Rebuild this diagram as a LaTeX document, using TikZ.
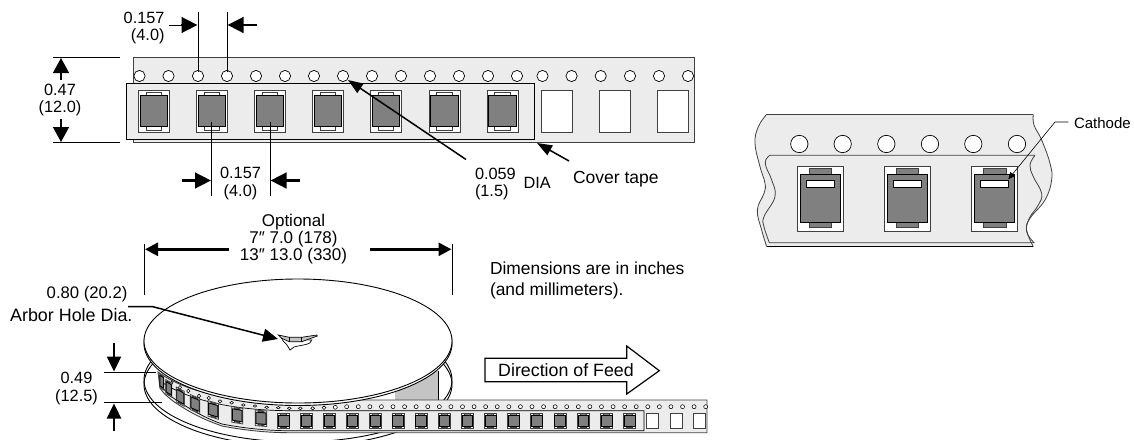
\documentclass[tikz,border=0pt]{standalone}
\usepackage{fontspec}
\setmainfont{Liberation Sans}
\usetikzlibrary{arrows.meta}
\definecolor{tapegray}{HTML}{ECECEC}
\definecolor{bodygray}{HTML}{808080}
\definecolor{wedgegray}{HTML}{C4C4C4}
\definecolor{edgegray}{HTML}{404040}
\newcommand{\txtA}{\fontsize{16.3}{17.5}\selectfont}
\newcommand{\txtB}{\fontsize{17.5}{17}\selectfont}
\newcommand{\txtO}{\fontsize{17}{17}\selectfont}
\newcommand{\txtN}{\fontsize{17.4}{21}\selectfont}
\newcommand{\txtC}{\fontsize{15}{15}\selectfont}
% a taped component, in local coordinates of the top tape
\newcommand{\tapecomp}[1]{%
  \draw[pocketline,fill=white] (-15.5,-21) rectangle (15.5,21);
  \draw[pocketline,fill=#1] (-7.8,-19) rectangle (7.8,-15);
  \draw[pocketline,fill=#1] (-7.8,15) rectangle (7.8,19);
  \draw[black,line width=.9pt,fill=bodygray] (-13.7,-15.5) rectangle (13.7,15.5);
}
\tikzset{
  pocketline/.style={draw=edgegray,line width=.8pt},
  dimline/.style={draw=black,line width=.75pt},
  bigarrow/.style={line width=2.8pt,-{Triangle[length=16pt,width=15.5pt]}},
  reelarrow/.style={line width=2.8pt,-{Triangle[length=13pt,width=13pt]}},
  smallarrow/.style={line width=1.5pt,-{Triangle[length=15pt,width=11pt]}},
  upright/.style={line width=2.4pt,-{Triangle[length=15pt,width=14pt]}},
  bigup/.style={line width=1.4pt,-{Triangle[length=15pt,width=16pt]}},
  lab/.style={inner sep=0pt,outer sep=0pt,font=\txtA,align=center},
  tapefill/.style={draw=edgegray,line width=.9pt,fill=tapegray},
  holeline/.style={draw=black,line width=.7pt,fill=white},
}
\begin{document}
\begin{tikzpicture}[x=1pt,y=-1pt]
\useasboundingbox (0,0) rectangle (1134,439);
\begin{scope}
\clip (0,0) rectangle (1134,439);

%% ---------- top tape ----------
\draw[tapefill] (133,57.5) rectangle (694,142.5);
\foreach \hh in {139.5,168.5,198,227,256,285,314,343,372,401,430,459,488,517,542.5,571.6,600.7,630,659,688}
  \draw[holeline] (\hh,76) circle (5.6);
\draw[black,line width=.8pt,fill=tapegray] (126.5,83.5) rectangle (534.5,139.5);
\foreach \cc in {154,212,270,328,386,444.5,502.5}
  \begin{scope}[shift={(\cc,111)}]\tapecomp{white}\end{scope}
\foreach \cc in {556.5,615,673}
  \draw[pocketline,fill=white] (\cc-15.5,90) rectangle (\cc+15.5,132);

\coordinate (ta) at (198,12); \coordinate (tb) at (198,72);
\coordinate (tc) at (227,12); \coordinate (td) at (227,72);
\draw[dimline] (ta) -- (tb); \draw[dimline] (tc) -- (td);
\draw[line width=.8pt] (169,25) -- (182,25);
\draw[bigarrow] (181,25) -- (197.5,25);
\draw[bigarrow] (257,25) -- (227.5,25);
\node[lab,anchor=east,align=right] (t157) at (164.5,28) {0.157\\(4.0)};

\draw[dimline] (53,57.5) -- (120,57.5);
\draw[dimline] (53,142.5) -- (120,142.5);
\draw[bigup] (61,80) -- (61,58);
\draw[bigup] (61,119) -- (61,142);
\node[lab] (t047) at (60,100) {0.47\\(12.0)};

\draw[dimline] (211.5,122) -- (211.5,196);
\draw[dimline] (270,122) -- (270,196);
\draw[bigarrow] (182,180.5) -- (211,180.5);
\draw[bigarrow] (299.5,180.5) -- (270.5,180.5);
\node[lab] (b157) at (240.5,183.5) {0.157\\(4.0)};

\coordinate (diaT) at (466,159.5); \coordinate (diaH) at (348,80);
\draw[smallarrow] (diaT) -- (diaH);
\node[lab,anchor=west,align=left] (d059) at (475,184) {0.059\\(1.5)};
\node[lab,anchor=west] (ddia) at (523.5,182.5) {DIA};
\coordinate (covT) at (569,161); \coordinate (covH) at (537,143);
\draw[smallarrow] (covT) -- (covH);
\node[lab,anchor=west,font=\txtB] (cov) at (573,179.5) {Cover tape};

%% ---------- detail at right ----------
\begin{scope}[shift={(740,80)},x=.3333pt,y=-.3333pt]
  \fill[tapegray] (80,103) -- (880,103)
     -- plot[smooth,tension=.7] coordinates {(880,103) (882,135) (905,180) (930,250) (935,300) (915,360) (870,415) (860,450) (880,500)}
     -- (80,500)
     -- plot[smooth,tension=.7] coordinates {(80,500) (65,450) (52,390) (72,340) (75,310) (60,260) (45,190) (55,140) (80,103)} -- cycle;
  \draw[edgegray,line width=.9pt] (80,103) -- (880,103);
  \draw[black,line width=1pt] (80,500.5) -- (880,500.5);
  \draw[edgegray,line width=.8pt] plot[smooth,tension=.7] coordinates {(880,103) (882,135) (905,180) (930,250) (935,300) (915,360) (870,415) (860,450) (880,500)};
  \draw[edgegray,line width=.8pt] plot[smooth,tension=.7] coordinates {(80,500) (65,450) (52,390) (72,340) (75,310) (60,260) (45,190) (55,140) (80,103)};
  \foreach \hh in {178,308,439,570,700,831}
    \draw[holeline] (\hh,192) circle (26);
  \draw[edgegray,line width=.8pt] (885,226) -- (90,226)
     -- plot[smooth,tension=.7] coordinates {(90,226) (78,238) (78,260) (95,300) (105,350) (72,410) (72,440) (88,488)}
     -- (882,488)
     -- plot[smooth,tension=.7] coordinates {(882,488) (860,455) (868,415) (895,375) (905,340) (880,290) (870,255) (885,226)};
  \foreach \cc in {241,502,764}{
    \draw[pocketline,fill=white] (\cc-69,258) rectangle (\cc+69,454);
    \draw[pocketline,fill=bodygray] (\cc-34,266) rectangle (\cc+34,283);
    \draw[pocketline,fill=bodygray] (\cc-34,428) rectangle (\cc+34,443);
    \draw[black,line width=.9pt,fill=bodygray] (\cc-60.5,283) rectangle (\cc+60.5,428);
    \draw[black,line width=.8pt,fill=white] (\cc-42,301) rectangle (\cc+42,323);
  }
  \coordinate (catA) at (985,126);
  \coordinate (catB) at (945,126);
  \coordinate (catC) at (805,298);
  \draw[line width=.6pt,-{Triangle[length=7pt,width=6pt]}] (catA) -- (catB) -- (catC);
\end{scope}
\node[lab,anchor=west,font=\txtC] (cath) at (1074,123) {Cathode};

%% ---------- reel ----------
% lower flange
\draw[black,line width=.9pt,fill=white] (298,384.5) ellipse ({154} and {62});
\draw[black,line width=.9pt] (298,380) ellipse ({154} and {62});
% wedge
\fill[wedgegray] (395,392) -- (438,371) -- (438,401) -- (395,401) -- cycle;
\draw[black,line width=.8pt] (438,371) -- (438,401);
% strip, curved part
\draw[tapefill] (158,372) .. controls (190,395) and (240,402) .. (295,400) -- (707,400) -- (707,432.7) -- (287,432.7)
   .. controls (265,432.5) and (243,430) .. (222,426) .. controls (208,421) and (197,416) .. (187,410) .. controls (175,403) and (165,396) .. (160,388) -- cycle;
\foreach \xx/\yy/\ra/\rb in {171.7/382.7/1.3/1.8,180/387.3/1.5/1.9,188.3/391/1.6/1.9,199/396/1.8/1.9,208.7/398/1.8/1.8,220/401.3/1.8/1.6,231.7/402.7/1.8/1.4,243.3/405/1.8/1.3,255/406/1.8/1.2,266.7/407.3/1.9/1.2,278.3/407.7/1.9/1.2,289.3/408.3/1.9/1.3,300.3/408.3/1.9/1.4,312.7/408.3/1.9/1.6,324/407.7/1.9/1.8,335.3/407.3/2/1.9}
  \draw[holeline,line width=.55pt] (\xx,\yy) ellipse ({\ra} and {\rb});
\foreach \n in {0,...,31}
  \draw[holeline,line width=.55pt] ({346.7+\n*11.58},406.7) circle (2);
% cover edge
\draw[black,line width=.7pt] (160,381) .. controls (190,402) and (240,411) .. (295,410.7) -- (644,410.7) -- (644,430.7) -- (287,430.7)
   .. controls (265,430.5) and (243,428) .. (222,424) .. controls (208,419) and (197,413) .. (188,407.5) .. controls (177,401) and (168,395) .. (163,388);
% components on curve
\foreach \xx/\yy/\ww/\hh/\ss in {161.7/381.7/4/14/-.6,168.7/388.3/6/14/-.6,180.3/396.7/8/15/-.55,195/404/9.5/15/-.42,213.3/410/10.5/15.5/-.3,237.3/415.3/11/15.5/-.16,261/418.3/11.5/15.5/-.08}
  \begin{scope}[shift={(\xx,\yy)},yslant=\ss,xscale=\ww/31,yscale=\hh/42]\tapecomp{bodygray}\end{scope};
\foreach \xx in {283.7,306.6,329.3,352.3,375.3,398,421,444.3,467.3,490.7,513.7,536.7,560,583.3,606.7,629.7}
  \begin{scope}[shift={(\xx,420.5)},xscale=12/31,yscale=15/42]\tapecomp{bodygray}\end{scope};
\foreach \xx in {652.3,676,699}
  \draw[pocketline,fill=white] (\xx-6,413) rectangle (\xx+6,428);
% upper flange
\draw[black,line width=.9pt,fill=white] (298,343.5) ellipse ({154} and {62});
\draw[black,line width=.9pt,fill=white] (298,341) ellipse ({154} and {62});
% arbor hole
\draw[black,line width=.7pt,fill=white] (281.7,338.5) .. controls (284,343) and (286,343) .. (287,345) -- (290,350) -- (294,347) .. controls (300,345) and (312,345) .. (311.7,340) -- cycle;
\draw[black,line width=.7pt,fill=wedgegray] (278.3,335) -- (289.3,337.3) -- (301.7,337.3) -- (316.7,335) -- (317.3,336) -- (301.7,341.7) -- (289.3,341.7) -- (281.7,338.3) -- cycle;
\draw[black,line width=.5pt] (289.3,337.3) -- (289.3,341.7) (301.7,337.3) -- (301.7,341.7);

% reel dims
\draw[dimline] (144.5,244) -- (144.5,295);
\draw[dimline] (452,244) -- (452,295);
\draw[reelarrow] (229,249.3) -- (145,249.3);
\draw[reelarrow] (370,249.3) -- (451.5,249.3);
\node[lab,font=\txtO] (opt) at (293.5,239.5) {Optional\\7″ 7.0 (178)\\13″ 13.0 (330)};
\node[lab,anchor=east] (arb1) at (127.5,294) {\fontsize{16.7}{17}\selectfont 0.80 (20.2)};
\node[lab,anchor=east,font=\txtB] (arb2) at (132.5,315) {\fontsize{17.9}{17}\selectfont Arbor Hole Dia.};
\coordinate (arbS) at (128,306.5); \coordinate (arbK) at (152,306.5); \coordinate (arbH) at (278,339);
\draw[line width=1.5pt,-{Triangle[length=15pt,width=13pt]}] (arbS) -- (arbK) -- (arbH);

\draw[dimline] (104,372) -- (156,372);
\draw[dimline] (104,402.7) -- (162,402.7);
\draw[upright] (114,342.5) -- (114,371.5);
\draw[upright] (114,431) -- (114,403.5);
\node[lab] (t049) at (76.5,388.5) {0.49\\(12.5)};

\node[lab,font=\txtN,align=left,anchor=west] (note) at (490,280.5) {Dimensions are in inches\\(and millimeters).};

% feed arrow
\node[lab,font=\txtB] (feedtxt) at (566,370) {\fontsize{17.8}{17}\selectfont Direction of Feed};
\draw[black,line width=1.2pt] (485,358.3) -- (626.7,358.3) -- (626.7,346) -- (659.3,370.7) -- (626.7,394) -- (626.7,381.7) -- (485,381.7) -- cycle;
\end{scope}
\end{tikzpicture}
\end{document}
